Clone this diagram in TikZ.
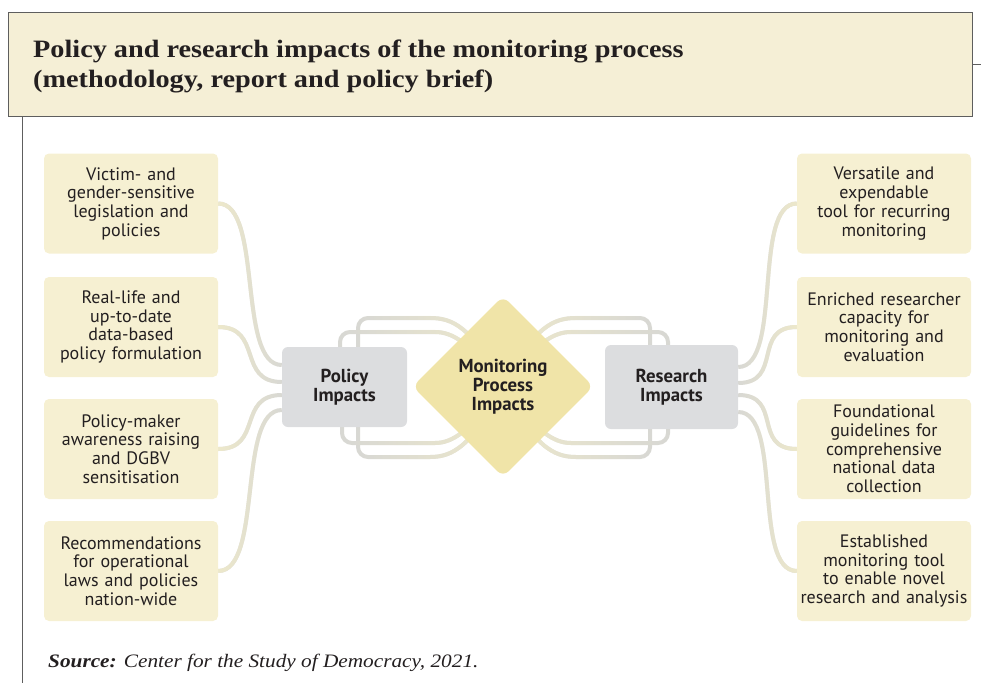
\documentclass[tikz,border=0pt]{standalone}
\usepackage{fontspec}
\setmainfont{Liberation Serif}
\newfontfamily\boxfont{PT Sans}
\newfontfamily\headfont[FakeStretch=1.13]{Liberation Serif}
\newfontfamily\notefont[FakeStretch=1.12]{Liberation Serif}
\usetikzlibrary{shapes.geometric,fadings,calc}

\definecolor{boxbeige}{HTML}{F6F0D2}
\definecolor{titlefill}{HTML}{F5EFD6}
\definecolor{hubgray}{HTML}{DCDDDF}
\definecolor{diamondyellow}{HTML}{F0E4A8}
\definecolor{linkgray}{HTML}{D8D8D4}
\definecolor{linkbeige}{HTML}{EEE9CB}
\definecolor{ink}{HTML}{231F20}
\definecolor{framegray}{HTML}{5E5E5E}

\pgfdeclarelayer{back}
\pgfsetlayers{back,main}

\tikzset{
  impact/.style={rectangle, rounded corners=5pt, fill=boxbeige,
    minimum width=174pt, minimum height=100pt, text width=172pt,
    align=center, inner sep=0pt, text=ink,
    font=\boxfont\fontsize{18}{18.7}\selectfont},
  hub/.style={rectangle, rounded corners=6pt, fill=hubgray, inner sep=0pt,
    align=center, text=ink,
    font=\boxfont\bfseries\fontsize{18.8}{18.5}\selectfont},
  core/.style={diamond, aspect=1, minimum width=181pt, minimum height=181pt,
    inner sep=0pt, rounded corners=8pt, fill=diamondyellow, align=center,
    text=ink, font=\boxfont\bfseries\fontsize{18.8}{19}\selectfont},
  link/.style={line width=4pt, draw=linkgray},
  fadeeast/.style={line width=4pt, draw=linkbeige, path fading=east},
  fadewest/.style={line width=4pt, draw=linkbeige, path fading=west},
  frame/.style={draw=framegray, line width=0.8pt},
}

\begin{document}
\begin{tikzpicture}[x=1pt, y=-1pt]
\useasboundingbox (0,0) rectangle (981,683);

% heading bar and page frame
\node[rectangle, fill=titlefill, draw=framegray, line width=0.9pt,
      minimum width=964pt, minimum height=104pt, inner sep=0pt,
      anchor=north west] (titlebar) at (8,12) {};
\node[anchor=north west, inner sep=0pt, align=left, text=ink,
      font=\headfont\bfseries\fontsize{25}{30}\selectfont] (title) at (33,40)
  {Policy and research impacts of the monitoring process\\
   (methodology, report and policy brief)};
\draw[frame] (titlebar.south west) ++(14,0) coordinate (fl) -- (fl |- 0,683);
\draw[frame] (titlebar.east) -- ++(9,0);

% hubs
\node[core] (mon) at (503,386.5) {Monitoring\\Process\\Impacts};
\node[hub, minimum width=125pt, minimum height=80pt] (pol) at (344.5,387) {Policy\\Impacts};
\node[hub, minimum width=133pt, minimum height=84pt] (res) at (671.5,387) {Research\\Impacts};

% policy outcomes
\node[impact] (L1) at (131,203.5) {Victim- and\\gender-sensitive\\legislation and\\policies};
\node[impact] (L2) at (131,327) {Real-life and\\up-to-date\\data-based\\policy formulation};
\node[impact] (L3) at (131,449) {Policy-maker\\awareness raising\\and DGBV\\sensitisation};
\node[impact] (L4) at (131,571) {Recommendations\\for operational\\laws and policies\\nation-wide};

% research outcomes
\node[impact] (R1) at (884,203.5) {Versatile and\\expendable\\tool for recurring\\monitoring};
\node[impact] (R2) at (884,327) {Enriched researcher\\capacity for\\monitoring and\\evaluation};
\node[impact] (R3) at (884,449) {Foundational\\guidelines for\\comprehensive\\national data\\collection};
\node[impact] (R4) at (884,571) {Established\\monitoring tool\\to enable novel\\research and analysis};

\begin{pgfonlayer}{back}
  % outcome boxes to hubs
  \foreach \i/\dy in {1/-22,2/-5,3/8,4/23} {
    \draw[link] (L\i.east) .. controls +(45,0) and +(-45,0) .. ($(pol.west)+(0,\dy)$);
    \draw[fadeeast] (L\i.east) .. controls +(45,0) and +(-45,0) .. ($(pol.west)+(0,\dy)$);
  }
  \foreach \i/\dy in {1/-20,2/-4,3/8,4/25} {
    \draw[link] (R\i.west) .. controls +(-45,0) and +(45,0) .. ($(res.east)+(0,\dy)$);
    \draw[fadewest] (R\i.west) .. controls +(-45,0) and +(45,0) .. ($(res.east)+(0,\dy)$);
  }
  % loops from the policy hub into the centre
  \foreach \fd in {link,fadewest} {
    \draw[\fd, rounded corners=10pt] ($(pol.north)+(13.5,0)$) |- (420,318)
      .. controls (452,318) and (472,326) .. (mon.center);
    \draw[\fd, rounded corners=10pt] ($(pol.north)+(-4.5,0)$) |- (425,332)
      .. controls (452,332) and (470,342) .. (mon.center);
    \draw[\fd, rounded corners=10pt] ($(pol.south)+(-2.5,0)$) |- (425,443)
      .. controls (452,443) and (470,432) .. (mon.center);
    \draw[\fd, rounded corners=10pt] ($(pol.south)+(13.5,0)$) |- (420,457)
      .. controls (452,457) and (472,447) .. (mon.center);
  }
  % loops from the research hub into the centre
  \foreach \fd in {link,fadeeast} {
    \draw[\fd, rounded corners=10pt] ($(res.north)+(-21.5,0)$) |- (586,318)
      .. controls (554,318) and (534,326) .. (mon.center);
    \draw[\fd, rounded corners=10pt] ($(res.north)+(-3.5,0)$) |- (581,332)
      .. controls (554,332) and (536,342) .. (mon.center);
    \draw[\fd, rounded corners=10pt] ($(res.south)+(-3.5,0)$) |- (581,443)
      .. controls (554,443) and (536,432) .. (mon.center);
    \draw[\fd, rounded corners=10pt] ($(res.south)+(-21.5,0)$) |- (586,457)
      .. controls (554,457) and (534,447) .. (mon.center);
  }
\end{pgfonlayer}

% source line
\node[anchor=base west, inner sep=0pt, text=ink, font=\notefont\fontsize{19}{22}\selectfont]
  (source) at (48,667)
  {\textbf{\textit{Source:}} \textit{Center for the Study of Democracy, 2021.}};
\end{tikzpicture}
\end{document}
